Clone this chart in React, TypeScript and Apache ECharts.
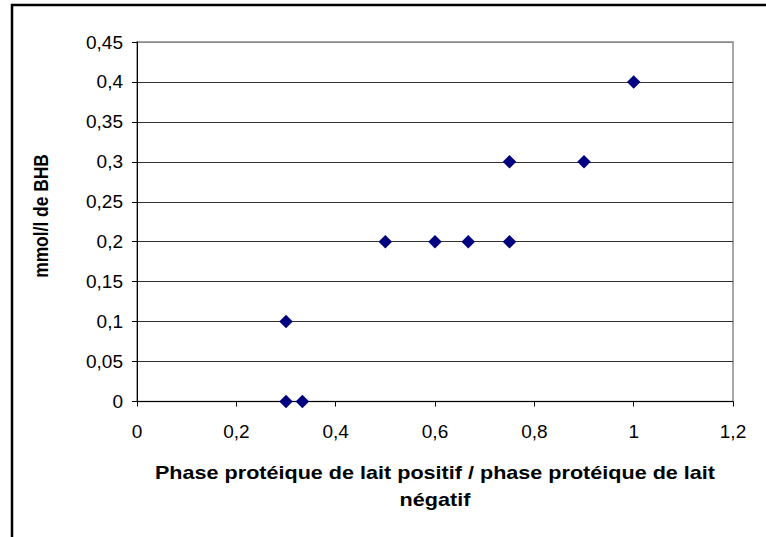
import React, { useEffect, useRef } from "react";
import * as echarts from "echarts";

const points: [number, number][] = [
  [0.3, 0.1],
  [0.3, 0],
  [0.333, 0],
  [0.5, 0.2],
  [0.6, 0.2],
  [0.667, 0.2],
  [0.75, 0.2],
  [0.75, 0.3],
  [0.9, 0.3],
  [1.0, 0.4],
];
const xAxisTitleLines = ["Phase protéique de lait positif / phase protéique de lait", "négatif"];
const yAxisTitle = "mmol/l de BHB";

const fmt = (v: number) => String(parseFloat(v.toFixed(2))).replace(".", ",");

export default function App() {
  const ref = useRef<HTMLDivElement>(null);
  useEffect(() => {
    if (!ref.current) return;
    const chart = echarts.init(ref.current, null, { renderer: "svg" });
    const font = "'Liberation Sans', Arial, sans-serif";
    chart.setOption({
      animation: false,
      backgroundColor: "#ffffff",
      grid: {
        left: 137,
        top: 42,
        right: 33,
        bottom: 135.5,
        show: true,
        borderColor: "#8a8a8a",
        borderWidth: 1.5,
        backgroundColor: "transparent",
      },
      xAxis: {
        type: "value",
        min: 0,
        max: 1.2,
        interval: 0.2,
        axisLine: { show: true, onZero: false, lineStyle: { color: "#000", width: 1 } },
        axisTick: { show: true, inside: false, length: 5, lineStyle: { color: "#000" } },
        axisLabel: { formatter: fmt, color: "#000", fontFamily: font, fontSize: 19, margin: 20 },
        splitLine: { show: false },
      },
      yAxis: {
        type: "value",
        min: 0,
        max: 0.45,
        interval: 0.05,
        axisLine: { show: true, onZero: false, lineStyle: { color: "#000", width: 1 } },
        axisTick: { show: true, inside: false, length: 5, lineStyle: { color: "#000" } },
        axisLabel: { formatter: fmt, color: "#000", fontFamily: font, fontSize: 19, margin: 14 },
        splitLine: {
          show: true,
          lineStyle: {
            color: ["#333", "#333", "#333", "#333", "#333", "#333", "#333", "#333", "#333", "#8a8a8a"],
            width: 1,
          },
        },
      },
      series: [
        {
          type: "scatter",
          data: points,
          symbol: "diamond",
          symbolSize: 13.5,
          itemStyle: { color: "#000080", opacity: 1 },
        },
      ],
      graphic: [
        {
          type: "rect",
          shape: { x: 12, y: 5, width: 900, height: 700 },
          style: { fill: "none", stroke: "#000", lineWidth: 2.5 },
          silent: true,
        },
        {
          type: "text",
          x: 435,
          y: 473,
          scaleX: 1.22,
          style: {
            text: xAxisTitleLines[0],
            font: `bold 17.7px ${font}`,
            fill: "#000",
            align: "center",
            verticalAlign: "middle",
          },
        },
        {
          type: "text",
          x: 435,
          y: 500,
          scaleX: 1.22,
          style: {
            text: xAxisTitleLines[1],
            font: `bold 17.7px ${font}`,
            fill: "#000",
            align: "center",
            verticalAlign: "middle",
          },
        },
        {
          type: "text",
          x: 41,
          y: 216,
          rotation: Math.PI / 2,
          scaleY: 1.2,
          style: {
            text: yAxisTitle,
            font: `bold 17.4px ${font}`,
            fill: "#000",
            align: "center",
            verticalAlign: "middle",
          },
        },
      ],
    });
    return () => chart.dispose();
  }, []);
  return (
    <div
      ref={ref}
      style={{ position: "fixed", left: 0, top: 0, width: 766, height: 537 }}
    />
  );
}
